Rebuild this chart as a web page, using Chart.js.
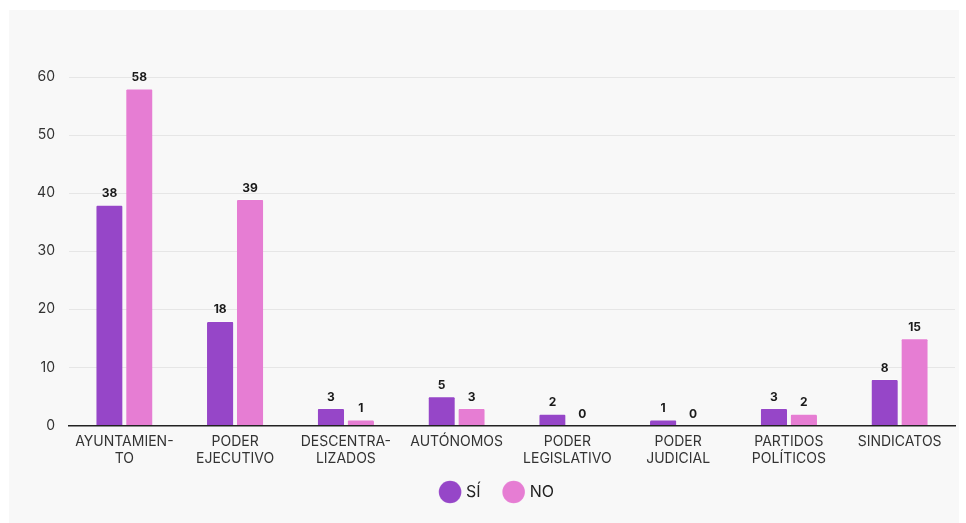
<!DOCTYPE html>
<html><head><meta charset="utf-8">
<script src="https://cdn.jsdelivr.net/npm/chart.js@4"></script>
<style>
html,body{margin:0;padding:0;background:#fff;}
#wrap{position:absolute;left:9px;top:10px;width:950px;height:513px;background:#f8f8f8;}
</style></head><body>
<div id="wrap"><canvas id="c" width="950" height="513"></canvas></div>
<script>
const categories = [["AYUNTAMIEN-","TO"],["PODER","EJECUTIVO"],["DESCENTRA-","LIZADOS"],"AUTÓNOMOS",["PODER","LEGISLATIVO"],["PODER","JUDICIAL"],["PARTIDOS","POLÍTICOS"],"SINDICATOS"];
const siValues = [38,18,3,5,2,1,3,8];
const noValues = [58,39,1,3,0,0,2,15];
const seriesNames = ["SÍ","NO"];
const yTicks = [0,10,20,30,40,50,60];

const valueLabels = {
  id:'valueLabels',
  afterDatasetsDraw(chart){
    const ctx = chart.ctx;
    ctx.save();
    ctx.font = 'bold 12px Inter, sans-serif';
    ctx.fillStyle = '#1a1a1a';
    ctx.textAlign = 'center';
    ctx.textBaseline = 'bottom';
    chart.data.datasets.forEach((ds,i)=>{
      chart.getDatasetMeta(i).data.forEach((bar,j)=>{
        ctx.fillText(String(ds.data[j]), bar.x, bar.y - 5);
      });
    });
    ctx.restore();
  }
};

const legendShift = {
  id:'legendShift',
  afterLayout(chart){
    if (chart.legend) {
      chart.legend.left += 16; chart.legend.right += 16;
      chart.legend.top -= 8; chart.legend.bottom -= 8;
    }
  }
};

new Chart(document.getElementById('c'),{
  type:'bar',
  data:{
    labels:categories,
    datasets:[
      {label:seriesNames[0],data:siValues,backgroundColor:'#9646c8',borderColor:'rgba(255,255,255,0.35)',borderWidth:{top:1,left:0,right:0,bottom:0},borderRadius:2,borderSkipped:'bottom'},
      {label:seriesNames[1],data:noValues,backgroundColor:'#e67dd3',borderColor:'rgba(255,255,255,0.35)',borderWidth:{top:1,left:0,right:0,bottom:0},borderRadius:2,borderSkipped:'bottom'}
    ]
  },
  options:{
    responsive:false,
    animation:false,
    devicePixelRatio:1,
    layout:{padding:{top:67,right:4,left:0,bottom:5}},
    datasets:{bar:{categoryPercentage:0.54,barPercentage:0.88}},
    scales:{
      x:{
        grid:{display:false},
        border:{display:true,color:'#222',width:1.5},
        ticks:{color:'#333',font:{family:'Inter, sans-serif',size:14},maxRotation:0,autoSkip:false,padding:0}
      },
      y:{
        min:0,max:60,
        afterFit(s){s.width=60;},
        grid:{color:'#e6e6e6',drawTicks:false},
        border:{display:false},
        ticks:{stepSize:10,color:'#333',font:{family:'Inter, sans-serif',size:14},padding:14,
          callback:(v)=>yTicks.includes(v)?String(v):''}
      }
    },
    plugins:{
      legend:{position:'bottom',labels:{usePointStyle:true,pointStyle:'circle',boxWidth:24,boxHeight:24,color:'#222',font:{family:'Inter, sans-serif',size:16},padding:25}},
      tooltip:{enabled:false}
    }
  },
  plugins:[valueLabels, legendShift]
});
</script>
</body></html>
